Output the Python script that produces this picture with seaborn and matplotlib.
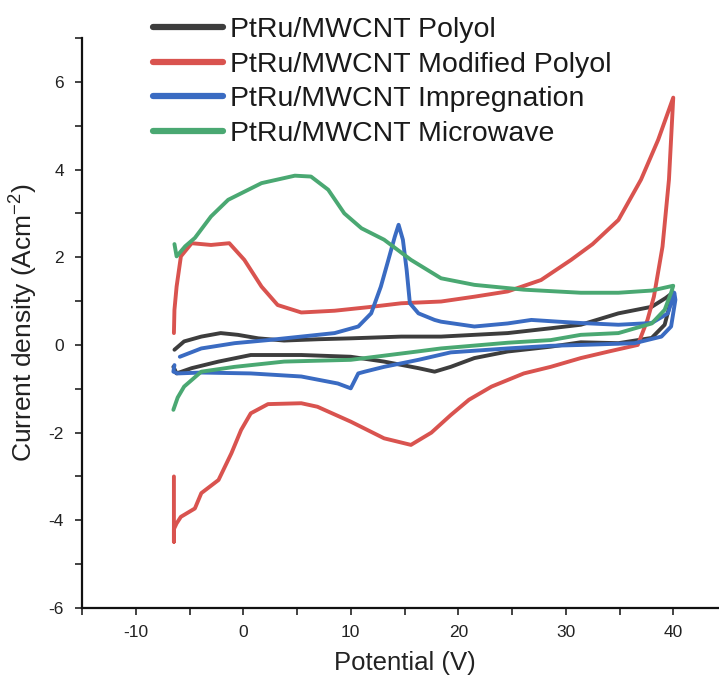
import matplotlib
matplotlib.use("Agg")
import matplotlib.pyplot as plt
import seaborn as sns
import pandas as pd
from matplotlib.ticker import MultipleLocator

labels = ["PtRu/MWCNT Polyol", "PtRu/MWCNT Modified Polyol",
          "PtRu/MWCNT Impregnation", "PtRu/MWCNT Microwave"]

polyol_x = [-6.4, -5.5, -3.9, -2.1, -0.5, 1.4, 3.8, 7.0, 10.0, 14.7, 18.4, 24.6, 28.6, 31.4, 34.9, 38.0, 39.3, 40.0,
            39.2, 38.0, 34.9, 31.4, 28.6, 24.6, 21.5, 19.3, 17.8, 16.3, 13.1, 10.0, 5.4, 0.7, -2.3, -4.8, -6.2, -6.5]
polyol_y = [-0.11, 0.08, 0.19, 0.27, 0.23, 0.15, 0.10, 0.13, 0.15, 0.19, 0.19, 0.27, 0.38, 0.46, 0.72, 0.87, 1.07, 1.20,
            0.46, 0.16, 0.04, 0.06, -0.04, -0.15, -0.30, -0.50, -0.61, -0.53, -0.38, -0.27, -0.23, -0.23, -0.38, -0.53, -0.65, -0.50]

modified_x = [-6.45, -6.4, -6.2, -5.8, -4.8, -3.0, -1.3, 0.1, 1.7, 3.2, 5.4, 8.5, 11.6, 14.7, 18.4, 21.5, 24.6, 27.7,
              30.5, 32.5, 34.9, 37.0, 38.6, 40.0,
              39.6, 39.0, 38.2, 37.6, 36.7, 34.0, 31.4, 28.6, 26.1, 23.1, 21.0, 19.3, 17.5, 15.6, 13.1, 10.0, 6.9, 5.4,
              2.3, 0.7, -0.2, -1.1, -2.3, -3.9, -4.5, -5.8, -6.2, -6.45, -6.45, -6.45]
modified_y = [0.27, 0.80, 1.33, 2.02, 2.32, 2.28, 2.32, 1.94, 1.33, 0.91, 0.74, 0.78, 0.86, 0.95, 0.99, 1.10, 1.22, 1.48,
              1.94, 2.30, 2.85, 3.77, 4.68, 5.64,
              3.77, 2.24, 1.10, 0.57, 0.00, -0.15, -0.30, -0.50, -0.65, -0.95, -1.25, -1.60, -2.00, -2.28, -2.13, -1.75, -1.41, -1.33,
              -1.35, -1.56, -1.94, -2.47, -3.08, -3.38, -3.73, -3.92, -4.07, -4.20, -4.49, -3.00]

impreg_x = [-5.9, -3.9, -0.8, 2.3, 5.4, 8.5, 10.7, 11.9, 12.8, 13.5, 14.1, 14.45, 14.85, 15.2, 15.5, 16.3, 17.8, 18.4,
            21.5, 24.6, 26.8, 29.3, 31.4, 34.9, 38.0, 39.5, 40.1,
            40.2, 39.8, 38.9, 36.4, 31.5, 28.6, 24.6, 19.3, 16.3, 13.1, 11.3, 10.7, 10.0, 8.8, 5.4, 0.7, -3.9, -6.1, -6.5, -6.4]
impreg_y = [-0.27, -0.08, 0.04, 0.11, 0.19, 0.27, 0.42, 0.72, 1.33, 1.94, 2.47, 2.74, 2.40, 1.71, 0.95, 0.72, 0.57, 0.53,
            0.42, 0.49, 0.57, 0.53, 0.50, 0.46, 0.50, 0.72, 1.19,
            1.03, 0.42, 0.19, 0.04, 0.00, -0.02, -0.08, -0.17, -0.34, -0.50, -0.61, -0.65, -0.99, -0.88, -0.72, -0.65, -0.63, -0.65, -0.61, -0.46]

micro_x = [-6.4, -6.2, -5.4, -4.5, -3.0, -1.4, 1.7, 4.8, 6.3, 7.9, 9.4, 11.0, 13.1, 15.6, 18.4, 21.5, 26.1, 31.4, 34.9, 38.0, 40.0,
           39.8, 39.2, 38.0, 34.9, 31.4, 28.6, 24.6, 18.4, 16.2, 10.0, 3.8, -0.8, -3.9, -5.5, -6.1, -6.5]
micro_y = [2.30, 2.02, 2.25, 2.44, 2.93, 3.31, 3.69, 3.86, 3.84, 3.54, 3.00, 2.66, 2.40, 1.94, 1.52, 1.37, 1.26, 1.19, 1.19, 1.24, 1.35,
           1.19, 0.80, 0.49, 0.27, 0.23, 0.11, 0.05, -0.08, -0.15, -0.34, -0.38, -0.50, -0.61, -0.95, -1.20, -1.48]

series = [(polyol_x, polyol_y), (modified_x, modified_y), (impreg_x, impreg_y), (micro_x, micro_y)]
colors = ["#3d3d3d", "#d9534f", "#3a6bc2", "#4aa872"]

frames = []
for lab, (xs, ys) in zip(labels, series):
    frames.append(pd.DataFrame({"Potential": xs, "Current": ys, "Sample": lab, "order": range(len(xs))}))
df = pd.concat(frames, ignore_index=True)

sns.set_theme(style="ticks")
plt.rcParams["font.family"] = ["Liberation Sans", "DejaVu Sans"]
plt.rcParams["axes.unicode_minus"] = False
plt.rcParams["mathtext.default"] = "regular"

fig = plt.figure(figsize=(7.19, 6.83), dpi=100)
ax = fig.add_axes([82/719, 1 - 608/683, 645/719, 570/683])

sns.lineplot(data=df, x="Potential", y="Current", hue="Sample", hue_order=labels,
             palette=colors, sort=False, estimator=None, units="Sample",
             linewidth=2.8, ax=ax, legend=True)

ax.set_xlim(-15, 45)
ax.set_ylim(-6, 7)
ax.xaxis.set_major_locator(MultipleLocator(10))
ax.xaxis.set_minor_locator(MultipleLocator(5))
ax.yaxis.set_major_locator(MultipleLocator(2))
ax.yaxis.set_minor_locator(MultipleLocator(1))
ax.tick_params(which="both", direction="out", length=5, width=1.2, colors="#222222", labelsize=12.5)
ax.tick_params(axis="y", pad=8)
ax.tick_params(axis="x", pad=7)
for s in ["top", "right"]:
    ax.spines[s].set_visible(False)
for s in ["left", "bottom"]:
    ax.spines[s].set_linewidth(1.6)
    ax.spines[s].set_color("#111111")

ax.set_xlabel("Potential (V)", fontsize=18.5, color="#222222", labelpad=8)
ax.set_ylabel("Current density (Acm$^{-2}$)", fontsize=19, color="#222222", labelpad=6)

handles, labs = ax.get_legend_handles_labels()
leg = ax.legend(handles, labs, loc="upper left", bbox_to_anchor=(153/719, 1 - 17/683),
                bbox_transform=fig.transFigure, frameon=False, fontsize=20.5,
                borderpad=0, borderaxespad=0, handlelength=2.45, handletextpad=0.25,
                labelspacing=0.30)
for h in leg.get_lines():
    h.set_linewidth(4.5)
for t in leg.get_texts():
    t.set_color("#1a1a1a")

fig.savefig("out.png", dpi=100)
